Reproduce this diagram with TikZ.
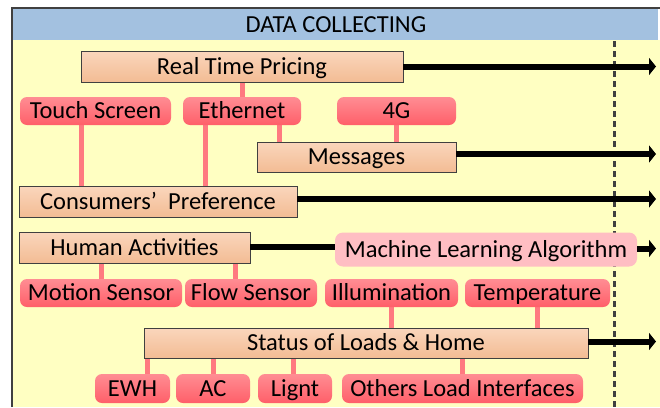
\documentclass[tikz,border=0pt]{standalone}
\usepackage{fontspec}
\setmainfont{Carlito}
\usetikzlibrary{arrows.meta,backgrounds}
\definecolor{hdrblue}{HTML}{A3C1E0}
\definecolor{bodyyel}{HTML}{FFFFC2}
\definecolor{frame}{HTML}{404040}
\definecolor{peachT}{HTML}{FAD6BC}
\definecolor{peachB}{HTML}{F3BC94}
\definecolor{redT}{HTML}{FF8D93}
\definecolor{redB}{HTML}{FF5F69}
\definecolor{mlapink}{HTML}{FFBEC3}
\definecolor{connpink}{HTML}{FF7A80}
\tikzset{
  txt/.style={font=\fontsize{24.5}{26}\selectfont, text height=15.7pt, text depth=0pt},
  peach/.style={draw=frame, line width=0.9pt, top color=peachT, bottom color=peachB,
    inner sep=0pt, txt},
  redbox/.style={rounded corners=7pt, top color=redT, bottom color=redB,
    inner sep=0pt, minimum height=28pt, txt},
  mlabox/.style={rounded corners=8pt, fill=mlapink,
    inner sep=0pt, txt},
  conn/.style={connpink, line width=5pt},
  bigarrow/.style={black, line width=6pt, -{Triangle[length=7pt,width=17pt]}},
  plainline/.style={black, line width=6pt},
}
\begin{document}
\begin{tikzpicture}[x=1pt,y=-1pt]
\useasboundingbox (0,0) rectangle (660,407);
% nodes
\node[txt] (title) at (336,25) {DATA COLLECTING};
\node[peach, minimum width=322pt, minimum height=31pt] (rtp) at (242,66.5) {Real Time Pricing};
\node[redbox, minimum width=151pt] (tsc) at (95.5,111) {Touch Screen};
\node[redbox, minimum width=118pt] (eth) at (242,111) {Ethernet};
\node[redbox, minimum width=119pt] (g4) at (396.5,111) {4G};
\node[peach, minimum width=199pt, minimum height=30pt] (msg) at (356.5,157) {Messages};
\node[peach, minimum width=278pt, minimum height=31pt] (cp) at (158,201.5) {Consumers’\ \ Preference};
\node[peach, minimum width=231pt, minimum height=31pt] (ha) at (134.5,247.5) {Human Activities};
\node[mlabox, minimum width=302pt, minimum height=34pt] (mla) at (486,249.5) {Machine Learning Algorithm};
\node[redbox, minimum width=162pt] (ms) at (101,293) {Motion Sensor};
\node[redbox, minimum width=132pt] (fs) at (251,293) {Flow Sensor};
\node[redbox, minimum width=133pt] (ill) at (391.5,293) {Illumination};
\node[redbox, minimum width=145pt] (tmp) at (537.5,293) {Temperature};
\node[peach, minimum width=444pt, minimum height=30pt] (slh) at (366,343) {Status of Loads \& Home};
\node[redbox, minimum width=75pt, minimum height=29pt] (ewh) at (132.5,388.5) {EWH};
\node[redbox, minimum width=74pt, minimum height=29pt] (ac) at (213,388.5) {AC};
\node[redbox, minimum width=74pt, minimum height=29pt] (lig) at (295,388.5) {Lignt};
\node[redbox, minimum width=241pt, minimum height=29pt] (oli) at (462.5,388.5) {Others Load Interfaces};

% helper x positions
\coordinate (x81) at (81,0);
\coordinate (x205) at (205,0);
\coordinate (x279) at (279,0);
\coordinate (x235) at (235,0);
\coordinate (x147) at (147,0);
\coordinate (x293) at (293,0);
\coordinate (dtop) at (614,41);
\coordinate (dbot) at (614,407);

\begin{scope}[on background layer]
% background panels
\fill[bodyyel] (13,40) rectangle (660,407);
\fill[hdrblue] (13,9) rectangle (658,40);
\draw[frame, line width=2.5pt] (12,407) -- (12,8) -- (660,8);
% dashed divider
\draw[frame, line width=3pt, dash pattern=on 6pt off 4pt] (dtop) -- (dbot);
% connectors
\draw[conn] (rtp.south) -- (eth.north);
\draw[conn] (tsc.south -| x81) -- (cp.north -| x81);
\draw[conn] (eth.south -| x205) -- (cp.north -| x205);
\draw[conn] (eth.south -| x279) -- (msg.north -| x279);
\draw[conn] (g4.south) -- (g4.south |- msg.north);
\draw[conn] (ha.south -| ms.south) -- (ms.north);
\draw[conn] (ha.south -| x235) -- (fs.north -| x235);
\draw[conn] (ill.south) -- (ill.south |- slh.north);
\draw[conn] (tmp.south) -- (tmp.south |- slh.north);
\draw[conn] (slh.south -| x147) -- (ewh.north -| x147);
\draw[conn] (slh.south -| ac.north) -- (ac.north);
\draw[conn] (slh.south -| x293) -- (lig.north -| x293);
\draw[conn] (slh.south -| oli.north) -- (oli.north);
\end{scope}

% arrows
\coordinate (e1) at (656,66.5);
\coordinate (e2) at (656,154);
\coordinate (e3) at (656,199);
\coordinate (e4) at (656,248.5);
\coordinate (e5) at (656,341.5);
\coordinate (hl) at (336,247);
\draw[bigarrow] (rtp.east) -- (e1);
\draw[bigarrow] (msg.east |- e2) -- (e2);
\draw[bigarrow] (cp.east |- e3) -- (e3);
\draw[plainline] (ha.east |- hl) -- (mla.west |- hl);
\draw[bigarrow] (mla.east |- e4) -- (e4);
\draw[bigarrow] (slh.east |- e5) -- (e5);
\end{tikzpicture}
\end{document}
